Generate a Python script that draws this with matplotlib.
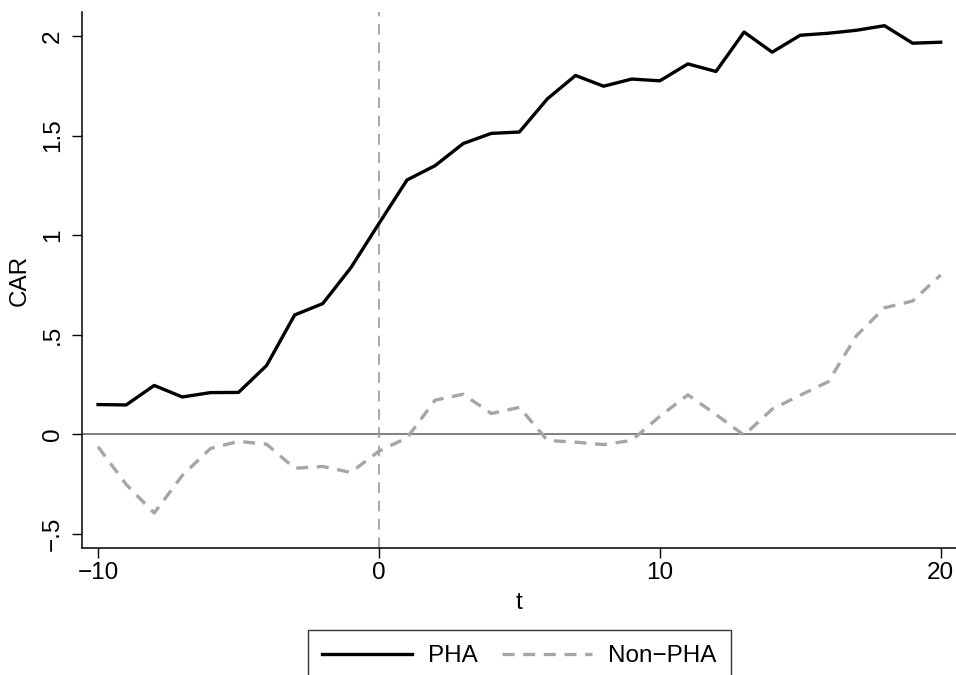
import matplotlib
matplotlib.use("Agg")
import matplotlib.pyplot as plt

plt.rcParams['font.family'] = ['Liberation Sans', 'DejaVu Sans']

# event time
t = list(range(-10, 21))

# cumulative abnormal returns
car_pha = [0.149, 0.147, 0.245, 0.187, 0.209, 0.210, 0.345, 0.599, 0.656, 0.836,
           1.058, 1.277, 1.349, 1.460, 1.511, 1.518, 1.685, 1.802, 1.748, 1.784,
           1.775, 1.860, 1.822, 2.020, 1.919, 2.004, 2.014, 2.029, 2.052, 1.964,
           1.969]
car_non = [-0.063, -0.252, -0.396, -0.207, -0.072, -0.036, -0.050, -0.171, -0.162, -0.192,
           -0.085, -0.018, 0.171, 0.201, 0.104, 0.135, -0.031, -0.040, -0.052, -0.031,
           0.090, 0.198, 0.099, -0.005, 0.126, 0.196, 0.264, 0.495, 0.635, 0.669,
           0.800]

xticks = [-10, 0, 10, 20]
xlabels = ['\u221210', '0', '10', '20']
yticks = [-0.5, 0, 0.5, 1, 1.5, 2]
ylabels = ['\u2212.5', '0', '.5', '1', '1.5', '2']

fs = 17.5

fig = plt.figure(figsize=(9.56, 6.75), dpi=100)
ax = fig.add_axes([0.0858, 0.188, 0.9142, 0.794])

ax.axhline(0, color='#808080', lw=1.4, zorder=1)
ax.axvline(0, color='#909090', lw=1.1, ls=(0, (7, 5)), zorder=1)

ax.plot(t, car_pha, color='black', lw=2.4, label='PHA', zorder=3)
ax.plot(t, car_non, color='#a6a6a6', lw=2.4, ls=(0, (3.6, 2.6)), label='Non\u2212PHA', zorder=2)

ax.set_xlim(-10.57, 20.545)
ax.set_ylim(-0.572, 2.12)

ax.set_xticks(xticks)
ax.set_xticklabels(xlabels)
ax.set_yticks(yticks)
ax.set_yticklabels(ylabels, rotation=90, va='center')

ax.tick_params(axis='both', labelsize=fs, length=7, width=1, color='black')
ax.tick_params(axis='y', pad=6)
ax.tick_params(axis='x', pad=3)

for s in ['top', 'right']:
    ax.spines[s].set_visible(False)
for s in ['left', 'bottom']:
    ax.spines[s].set_linewidth(1.1)

ax.set_xlabel('t', fontsize=fs, labelpad=6)
ax.set_ylabel('CAR', fontsize=fs, labelpad=8)

leg = fig.legend(loc='upper center', bbox_to_anchor=(0.543, 0.066), ncol=2,
                 fontsize=fs, frameon=True, fancybox=False, edgecolor='black',
                 handlelength=3.7, handletextpad=0.65, columnspacing=1.0,
                 borderpad=0.6, borderaxespad=0)
leg.get_frame().set_linewidth(1.0)

fig.savefig('out.png', dpi=100)
